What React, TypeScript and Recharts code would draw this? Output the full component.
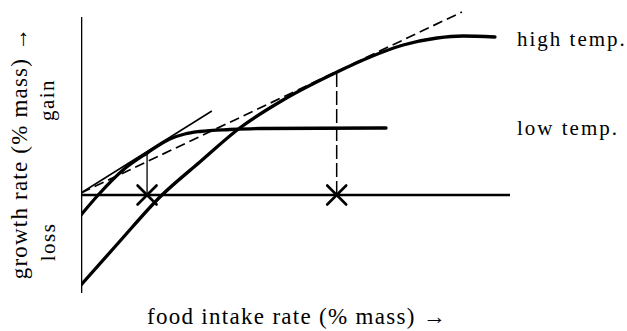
import { ComposedChart, Line, XAxis, YAxis, ReferenceDot } from 'recharts';

// growth curves (x: food intake, y: growth, arbitrary units)
const lowTemp = [
  { x: 0, y: -10 },
  { x: 4, y: 0 },
  { x: 9.8, y: 12.5 },
  { x: 15.4, y: 21 },
  { x: 20.7, y: 28 },
  { x: 24.2, y: 30.5 },
  { x: 27.7, y: 31.75 },
  { x: 34.7, y: 32.75 },
  { x: 41.7, y: 33.25 },
  { x: 71.1, y: 33.5 },
];

const highTemp = [
  { x: 0, y: -45 },
  { x: 9.1, y: -23 },
  { x: 18.4, y: -1 },
  { x: 27.7, y: 16.5 },
  { x: 37, y: 33.5 },
  { x: 47.1, y: 47.5 },
  { x: 59.7, y: 61.5 },
  { x: 67.4, y: 69 },
  { x: 75.1, y: 75 },
  { x: 83, y: 78.5 },
  { x: 89, y: 79.5 },
  { x: 96.5, y: 79 },
];

// tangents from the origin
const lowTangent = [
  { x: 0, y: 1 },
  { x: 30.5, y: 42 },
];
const highTangent = [
  { x: 0, y: 1 },
  { x: 88.8, y: 91.5 },
];

// optimal intake points
const lowOptimum = { x: 15.4, y: 21 };
const highOptimum = { x: 59.6, y: 61.5 };

const zeroLine = [
  { x: 0, y: 0 },
  { x: 100, y: 0 },
];
const yAxisLine = [
  { x: 0, y: -49 },
  { x: 0, y: 89 },
];

const serif = "'Liberation Serif', 'DejaVu Serif', serif";

function Cross(props: any) {
  const { cx, cy } = props;
  const s = 9.5;
  return (
    <g stroke="#000" strokeWidth={2.6} strokeLinecap="round">
      <line x1={cx - s} y1={cy - s} x2={cx + s} y2={cy + s} />
      <line x1={cx - s} y1={cy + s} x2={cx + s} y2={cy - s} />
    </g>
  );
}

export default function App() {
  return (
    <div style={{ position: 'absolute', left: 0, top: 0, width: 627, height: 331, background: '#fff' }}>
      <ComposedChart width={627} height={331} margin={{ top: 11, right: 117, bottom: 38, left: 81 }}>
        <XAxis type="number" dataKey="x" domain={[0, 100]} hide allowDataOverflow />
        <YAxis type="number" dataKey="y" domain={[-49, 92]} hide allowDataOverflow />

        <Line data={yAxisLine} dataKey="y" type="linear" stroke="#000" strokeWidth={2.6} dot={false} activeDot={false} isAnimationActive={false} />
        <Line data={zeroLine} dataKey="y" type="linear" stroke="#000" strokeWidth={2.6} dot={false} activeDot={false} isAnimationActive={false} />

        <Line data={lowTangent} dataKey="y" type="linear" stroke="#000" strokeWidth={1.5} dot={false} activeDot={false} isAnimationActive={false} />
        <Line data={highTangent} dataKey="y" type="linear" stroke="#000" strokeWidth={1.7} strokeDasharray="10 5" dot={false} activeDot={false} isAnimationActive={false} />

        <Line
          data={[{ x: lowOptimum.x, y: 0 }, lowOptimum]}
          dataKey="y" type="linear" stroke="#000" strokeWidth={1.3}
          dot={false} activeDot={false} isAnimationActive={false}
        />
        <Line
          data={[{ x: highOptimum.x, y: 0 }, highOptimum]}
          dataKey="y" type="linear" stroke="#000" strokeWidth={1.5} strokeDasharray="14 4"
          dot={false} activeDot={false} isAnimationActive={false}
        />

        <Line data={lowTemp} dataKey="y" type="monotone" stroke="#000" strokeWidth={3.3} strokeLinecap="round" dot={false} activeDot={false} isAnimationActive={false} />
        <Line data={highTemp} dataKey="y" type="monotone" stroke="#000" strokeWidth={3.3} strokeLinecap="round" dot={false} activeDot={false} isAnimationActive={false} />

        <ReferenceDot x={lowOptimum.x} y={0} r={0} shape={Cross} />
        <ReferenceDot x={highOptimum.x} y={0} r={0} shape={Cross} />
      </ComposedChart>

      <svg width={627} height={331} style={{ position: 'absolute', left: 0, top: 0, pointerEvents: 'none', fontFamily: serif }}>
        <g fill="#000" style={{ fontFamily: serif }}>
          <text x={517} y={46} fontSize={21} letterSpacing={2}>high temp.</text>
          <text x={517} y={135} fontSize={21} letterSpacing={2}>low temp.</text>
          <text x={297} y={324} fontSize={23} letterSpacing={1.3} textAnchor="middle">food intake rate (% mass) →</text>
          <text x={27} y={153} fontSize={23} letterSpacing={1.2} textAnchor="middle" transform="rotate(-90 27 153)">growth rate (% mass) →</text>
          <text x={54} y={100} fontSize={21} letterSpacing={1.5} textAnchor="middle" transform="rotate(-90 54 100)">gain</text>
          <text x={55} y={242} fontSize={21} letterSpacing={1.5} textAnchor="middle" transform="rotate(-90 55 242)">loss</text>
        </g>
      </svg>
    </div>
  );
}
